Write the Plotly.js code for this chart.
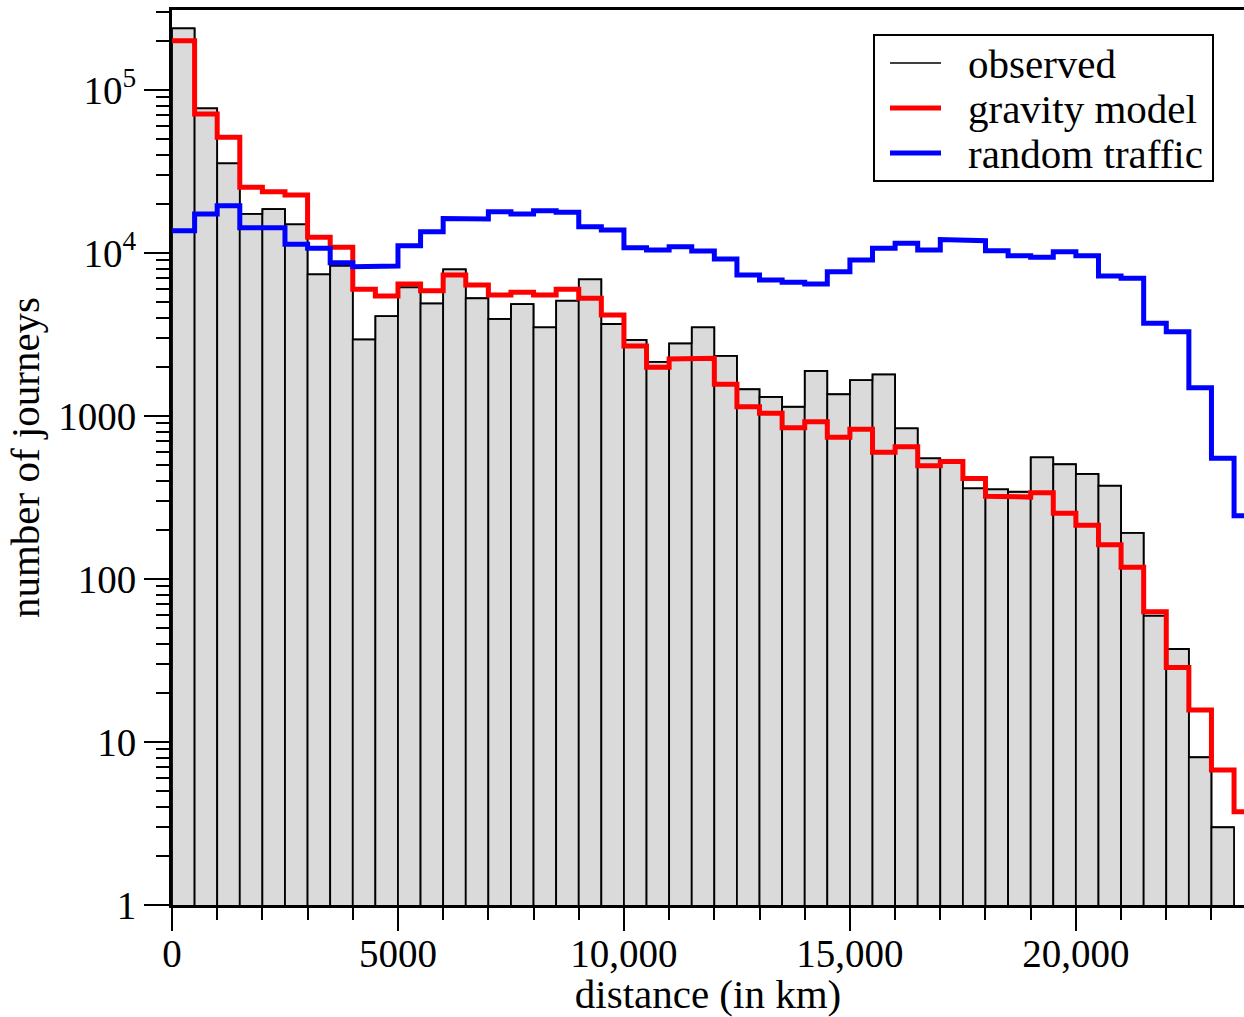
<!DOCTYPE html>
<html>
<head>
<meta charset="utf-8">
<script src="https://cdn.plot.ly/plotly-3.0.1.min.js"></script>
<style>
  html, body { margin: 0; padding: 0; background: #ffffff; }
  #chart { width: 1244px; height: 1017px; }
</style>
</head>
<body>
<div id="chart"></div>
<script>
// Bin starts (km), each bin is 500 km wide
const binWidthKm = 500;
const binStartKm = [0, 500, 1000, 1500, 2000, 2500, 3000, 3500, 4000, 4500,
  5000, 5500, 6000, 6500, 7000, 7500, 8000, 8500, 9000, 9500,
  10000, 10500, 11000, 11500, 12000, 12500, 13000, 13500, 14000, 14500,
  15000, 15500, 16000, 16500, 17000, 17500, 18000, 18500, 19000, 19500,
  20000, 20500, 21000, 21500, 22000, 22500, 23000, 23500];

// Observed number of journeys per bin (47 bins)
const observed = [239000, 77200, 35500, 17400, 18600, 15000, 7400, 8360, 2950, 4100,
  6160, 4910, 7940, 5280, 3940, 4860, 3500, 5100, 6900, 3670,
  2930, 2150, 2790, 3500, 2340, 1460, 1310, 1140, 1890, 1360,
  1660, 1800, 840, 550, 537, 360, 355, 343, 558, 506,
  441, 374, 192, 59.6, 37.2, 8.06, 3.0];

// Gravity model prediction per bin (48 bins)
const gravityModel = [200700, 71300, 51300, 25300, 23800, 22700, 12480, 10840, 5990, 5450,
  6450, 5870, 7330, 6360, 5530, 5740, 5530, 5990, 5280, 4170,
  2690, 1990, 2240, 2260, 1565, 1141, 1039, 848, 923, 740,
  829, 599, 648, 496, 526, 414, 322, 318, 338, 253,
  214, 162, 118, 63, 28.6, 15.7, 6.73, 3.74];

// Random traffic prediction per bin (48 bins)
const randomTraffic = [13700, 17350, 19500, 14300, 14300, 11310, 10690, 8720, 8240, 8320,
  11090, 13510, 16280, 16170, 17920, 17350, 18180, 17770, 14500, 13840,
  10780, 10430, 10930, 10290, 9190, 7330, 6830, 6610, 6450, 7680,
  9060, 10690, 11470, 10430, 12100, 11900, 10330, 9625, 9410, 10190,
  9625, 7225, 6995, 3704, 3291, 1491, 550, 244.5];

const seriesNames = ['observed', 'gravity model', 'random traffic'];
const xTickVals = [0, 5000, 10000, 15000, 20000];
const xTickText = ['0', '5000', '10,000', '15,000', '20,000'];
const yTickVals = [1, 10, 100, 1000, 10000, 100000];
const yTickText = ['1', '10', '100', '1000', '10<sup>4</sup>', '10<sup>5</sup>'];

// helper: turn histogram counts into step-line vertices
function stepLine(starts, counts) {
  const xs = [], ys = [];
  for (let i = 0; i < counts.length; i++) {
    xs.push(starts[i], starts[i] + binWidthKm);
    ys.push(counts[i], counts[i]);
  }
  return { x: xs, y: ys };
}

// minor tick values for log axis
const yMinor = [];
for (let d = 0; d <= 5; d++) {
  for (let m = 2; m <= 9; m++) yMinor.push(m * Math.pow(10, d));
}

const obsStep = stepLine(binStartKm, observed);
const gravStep = stepLine(binStartKm, gravityModel);
const randStep = stepLine(binStartKm, randomTraffic);

const FONT = 'Liberation Serif, Times New Roman, serif';
const colors = ['#000000', '#ff0000', '#0000ff'];
const widths = [1.5, 5, 5];

const traces = [
  {
    type: 'bar',
    x: binStartKm.slice(0, observed.length),
    y: observed,
    width: binWidthKm,
    offset: 0,
    marker: { color: '#dadada', line: { color: '#000000', width: 1.8 } },
    showlegend: false,
    hoverinfo: 'skip'
  },
  {
    type: 'scatter', mode: 'lines', name: seriesNames[0],
    x: obsStep.x, y: obsStep.y,
    line: { color: colors[0], width: widths[0] }
  },
  {
    type: 'scatter', mode: 'lines', name: seriesNames[1],
    x: gravStep.x, y: gravStep.y,
    line: { color: colors[1], width: widths[1] }
  },
  {
    type: 'scatter', mode: 'lines', name: seriesNames[2],
    x: randStep.x, y: randStep.y,
    line: { color: colors[2], width: widths[2] }
  }
];

// Legend drawn in paper coordinates (plot area: x 172..1244, y 10..905 px)
const PL = 172, PW = 1072, PB = 905, PH = 895;
const px = v => (v - PL) / PW;
const py = v => (PB - v) / PH;

const shapes = [
  { type: 'rect', xref: 'paper', yref: 'paper',
    x0: px(874), x1: px(1213), y0: py(181), y1: py(35),
    line: { color: '#000000', width: 2 }, fillcolor: '#ffffff', layer: 'above' }
];
const annotations = [];
const rowY = [63, 108, 153];
for (let i = 0; i < 3; i++) {
  shapes.push({ type: 'line', xref: 'paper', yref: 'paper',
    x0: px(890), x1: px(941), y0: py(rowY[i]), y1: py(rowY[i]),
    line: { color: colors[i], width: widths[i] }, layer: 'above' });
  annotations.push({ xref: 'paper', yref: 'paper', x: px(966), y: py(rowY[i] + 1),
    xanchor: 'left', yanchor: 'middle', showarrow: false, text: seriesNames[i],
    font: { family: FONT, size: 41, color: '#000000' } });
}

const layout = {
  width: 1244,
  height: 1017,
  margin: { l: 172, r: 0, t: 10, b: 112 },
  paper_bgcolor: '#ffffff',
  plot_bgcolor: '#ffffff',
  font: { family: FONT, size: 39, color: '#000000' },
  bargap: 0,
  showlegend: false,
  shapes: shapes,
  annotations: annotations,
  xaxis: {
    range: [0, 23720],
    showgrid: false,
    zeroline: false,
    showline: true,
    linecolor: '#000000',
    linewidth: 3,
    mirror: true,
    ticks: 'outside',
    ticklen: 23,
    tickwidth: 2,
    tickcolor: '#000000',
    tickmode: 'array',
    tickvals: xTickVals,
    ticktext: xTickText,
    tickfont: { family: FONT, size: 39 },
    ticklabelstandoff: -11,
    minor: { dtick: 1000, tick0: 0, ticks: 'outside', ticklen: 12, tickwidth: 2, tickcolor: '#000000', showgrid: false },
    title: { text: 'distance (in km)', font: { family: FONT, size: 41 }, standoff: 16 }
  },
  yaxis: {
    type: 'log',
    range: [0, 5.491],
    showgrid: false,
    zeroline: false,
    showline: true,
    linecolor: '#000000',
    linewidth: 3,
    mirror: false,
    ticks: 'outside',
    ticklen: 25,
    tickwidth: 2,
    tickcolor: '#000000',
    tickmode: 'array',
    tickvals: yTickVals,
    ticktext: yTickText,
    tickfont: { family: FONT, size: 39 },
    minor: { tickmode: 'array', tickvals: yMinor, ticks: 'outside', ticklen: 13, tickwidth: 2, tickcolor: '#000000', showgrid: false },
    title: { text: 'number of journeys', font: { family: FONT, size: 41 }, standoff: 6 }
  }
};

Plotly.newPlot('chart', traces, layout, { displayModeBar: false, staticPlot: true });
</script>
</body>
</html>
